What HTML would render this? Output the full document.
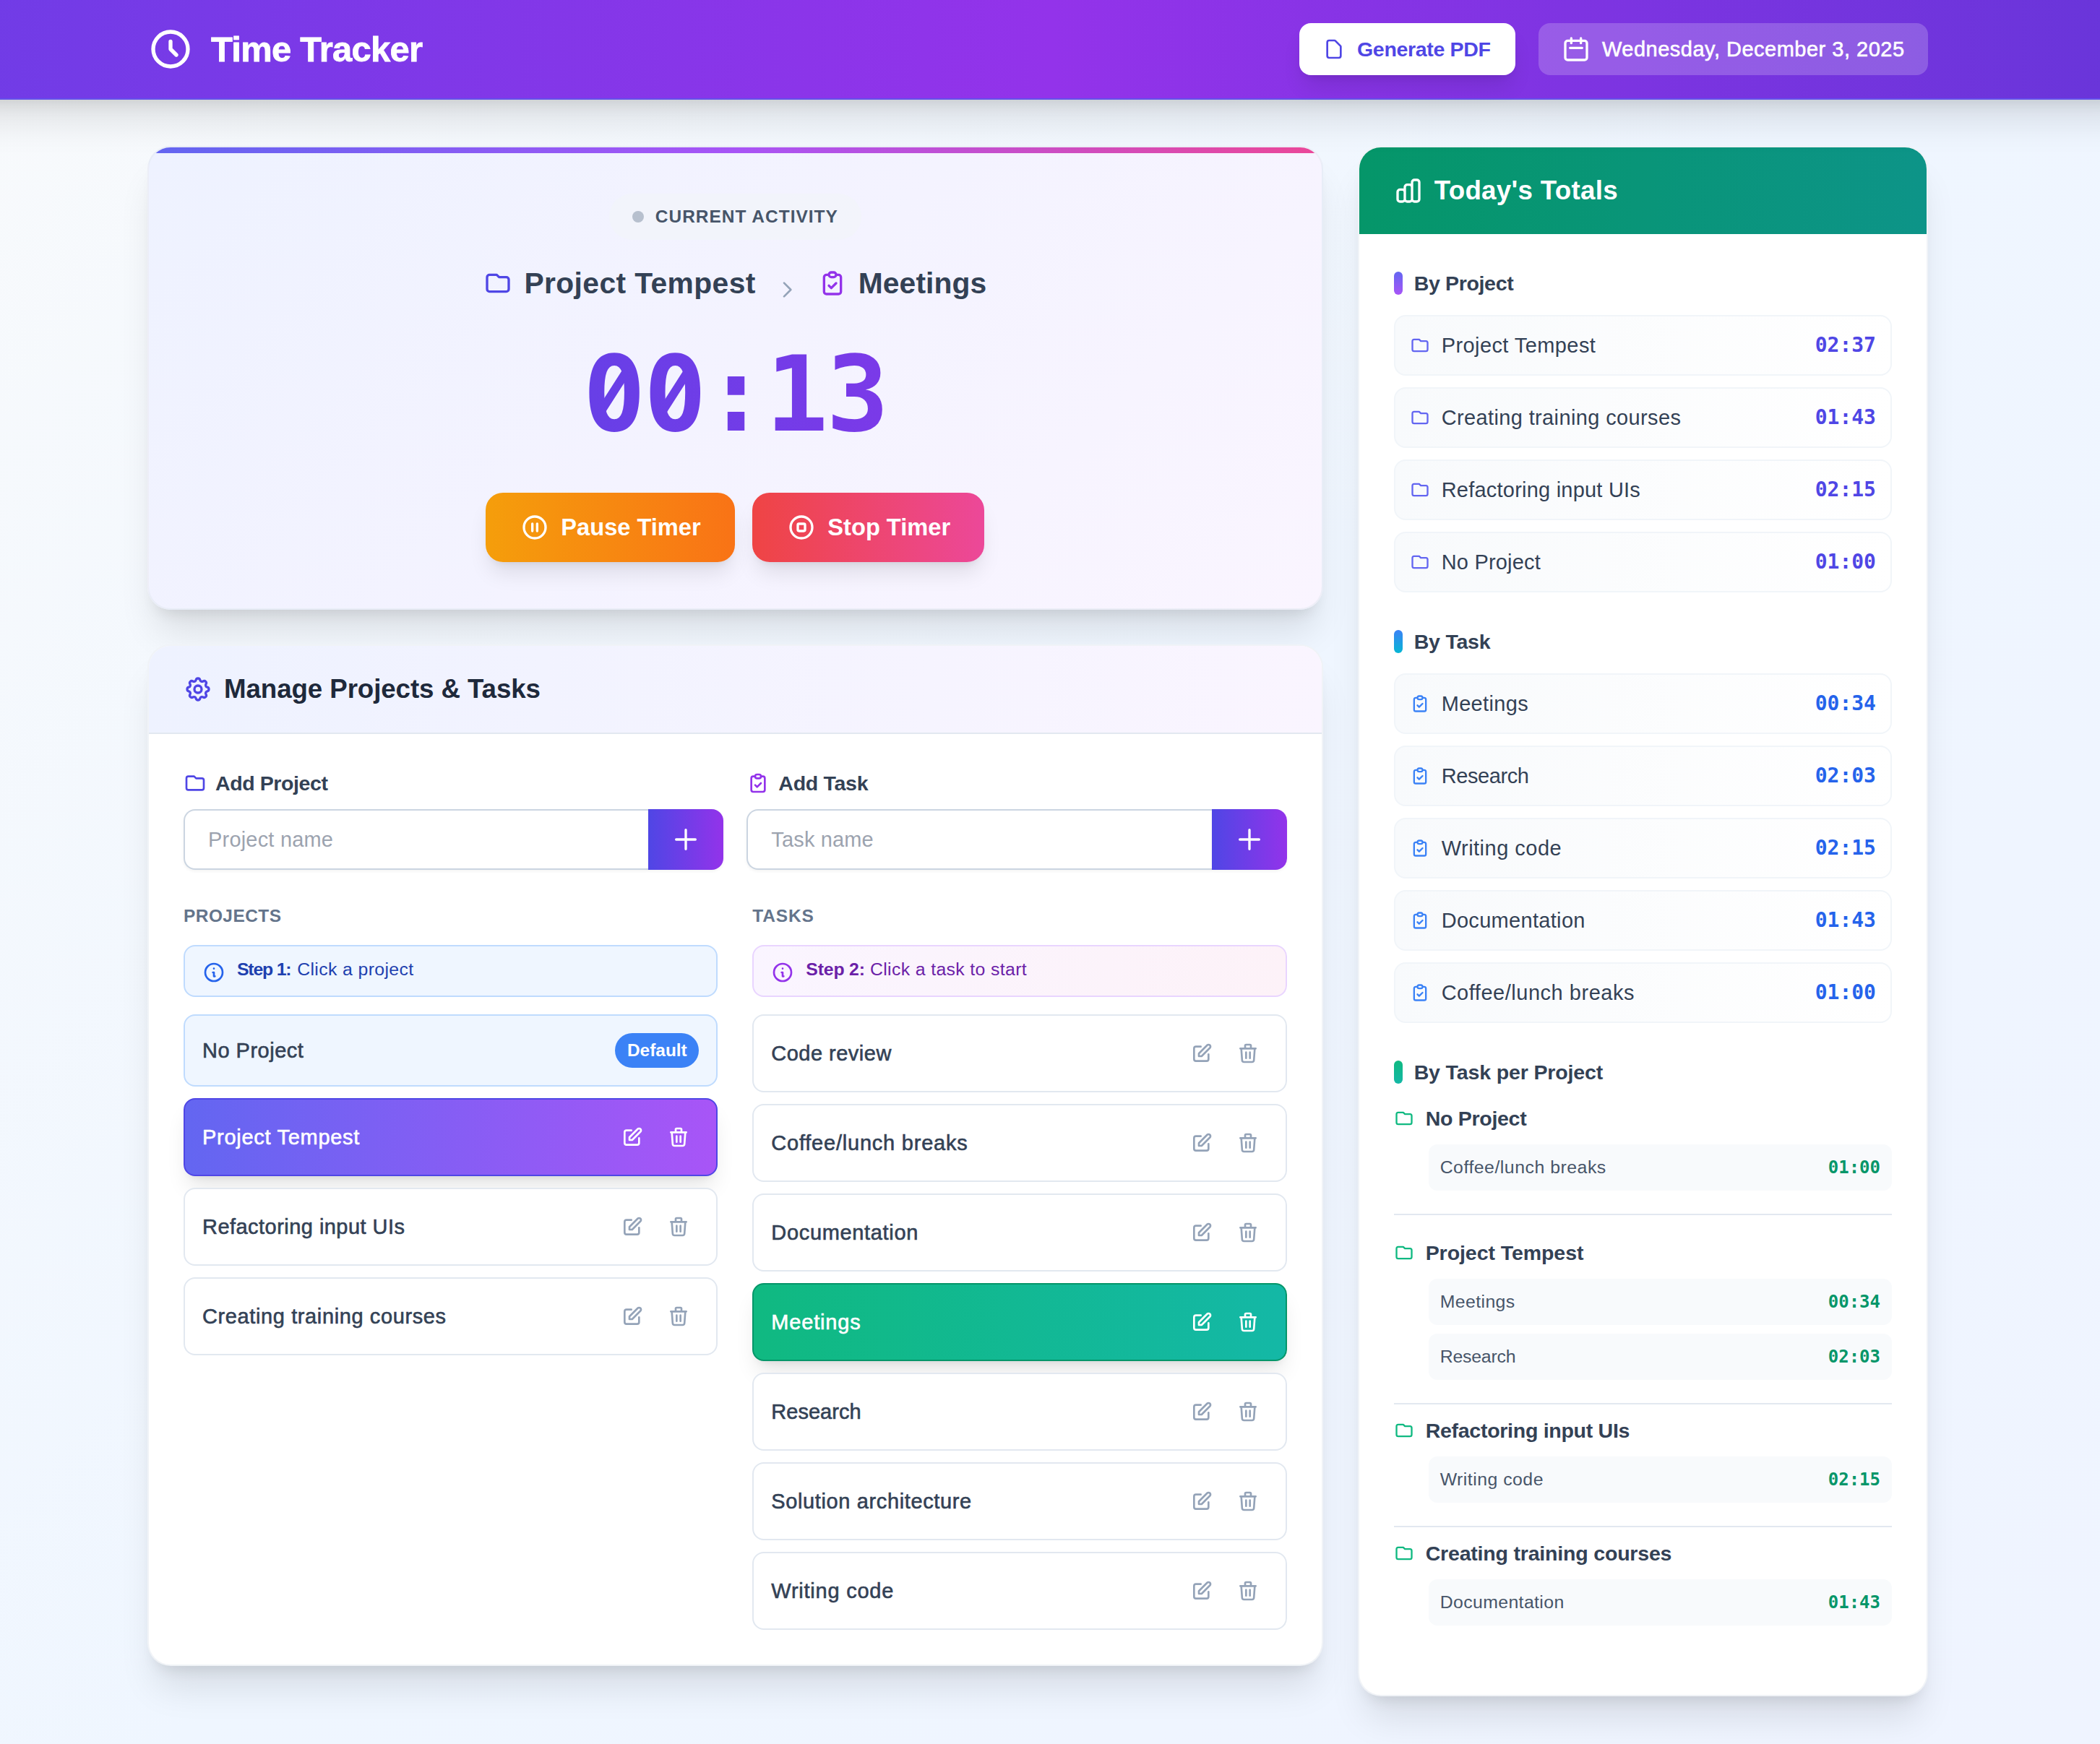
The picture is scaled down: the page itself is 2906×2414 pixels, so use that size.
<!DOCTYPE html>
<html lang="en">
<head>
<meta charset="utf-8">
<title>Time Tracker</title>
<style>
*{box-sizing:border-box;margin:0;padding:0}
html,body{width:100%;height:100%;overflow:hidden;background:#eff6ff}
body{font-family:"Liberation Sans",sans-serif;color:#334155;-webkit-font-smoothing:antialiased}
#app{zoom:2;width:1453px;height:1207px;position:relative;overflow:hidden;
  background:linear-gradient(135deg,#f8fafc 0%,#eff6ff 50%,#eff4ff 100%)}
.ic{display:block;flex:none}
button{font:inherit;border:0;background:none;color:inherit}
.wrap{margin-left:102px;width:1232px}
/* header */
.hdr{height:69px;margin:0 -30px;padding:0 30px;border-bottom:1px solid #6450eb;position:relative;z-index:5;
  background:linear-gradient(90deg,#703ce6 0%,#9333ea 50%,#6835d9 100%);
  box-shadow:0 20px 25px -5px rgba(0,0,0,.1),0 8px 10px -6px rgba(0,0,0,.1)}
.hdr-in{height:68px;display:flex;align-items:center;justify-content:space-between}
.brand{display:flex;align-items:center;gap:12px;color:#fff}
.brand h1{font-size:24.48px;line-height:32px;font-weight:700;letter-spacing:0;-webkit-text-stroke:.4px currentColor}
.hdr-r{display:flex;align-items:center;gap:16px}
.btn-pdf{display:flex;align-items:center;gap:8px;height:36px;width:149.5px;padding:0 0 0 16px;white-space:nowrap;background:#fff;color:#4f46e5;border-radius:8px;
  font-size:14.28px;line-height:20px;font-weight:700;box-shadow:0 10px 15px -3px rgba(0,0,0,.1),0 4px 6px -4px rgba(0,0,0,.1)}
.date{display:flex;align-items:center;gap:8px;height:36px;width:269.5px;padding:0 0 0 16px;white-space:nowrap;background:rgba(255,255,255,.2);color:#fff;border-radius:8px;
  font-size:14.49px;line-height:20px;font-weight:400;-webkit-text-stroke:.3px currentColor}
/* main */
.main{padding-top:32px;display:flex;gap:24px;align-items:flex-start}
.col-l{width:813.33px;flex:none}
.card{border-radius:16px;background:#fff;border:1px solid rgba(226,232,240,.5);position:relative;overflow:hidden;
  box-shadow:0 20px 25px -5px rgba(0,0,0,.1),0 8px 10px -6px rgba(0,0,0,.1)}
/* timer */
.timer{height:321px;padding:32px;text-align:center;background:linear-gradient(135deg,#eef2ff 0%,#f4f3ff 50%,#faf5ff 100%)}
.bar{position:absolute;left:0;right:0;top:0;height:4px;background:linear-gradient(90deg,#6366f1,#a855f7,#ec4899)}
.pill{display:inline-flex;align-items:center;gap:8px;height:32px;padding:0 16px;border-radius:16px;background:rgba(241,245,249,.6);margin-bottom:16px}
.dot{width:8px;height:8px;border-radius:50%;background:#b7c0ce}
.pill-t{font-size:12.24px;line-height:16px;font-weight:700;color:#475569}
.crumb{display:flex;align-items:center;justify-content:center;gap:12px;height:28px;margin-bottom:27px}
.crumb .ic{margin-right:-4px}
.cr-t{font-size:20.40px;line-height:28px;font-weight:700;color:#334155}
.c-ind{color:#4f46e5}.c-pur{color:#9333ea}.c-chev{color:#94a3b8;position:relative;top:4.5px}
.crumb .c-chev{margin:0 1.5px}
.clock{font-family:"DejaVu Sans Mono","Liberation Mono",monospace;font-weight:700;font-size:72px;line-height:72px;height:72px;letter-spacing:-1.25px;margin-bottom:32px;
  background:linear-gradient(90deg,#4f46e5,#9333ea);-webkit-background-clip:text;background-clip:text;color:transparent;-webkit-text-fill-color:transparent}
.zs{position:absolute;left:32px;top:135px;width:747.33px;height:72px;background:linear-gradient(90deg,#4f46e5,#9333ea);clip-path:path('M281.15 41.60 L296.35 17.90 L298.10 26.15 L282.90 49.85 Z M323.65 41.60 L338.85 17.90 L340.60 26.15 L325.40 49.85 Z')}
.zd{position:absolute;width:10.5px;height:10.5px;border-radius:50%;background:#f4f3ff;top:164.50px}
.zd1{left:317.00px}.zd2{left:359.00px}
.tbtns{display:flex;justify-content:center;gap:12px}
.tb{display:flex;align-items:center;gap:8px;height:48px;padding:0 0 0 24px;white-space:nowrap;border-radius:12px;color:#fff;font-size:16.32px;line-height:24px;font-weight:700;
  box-shadow:0 10px 15px -3px rgba(0,0,0,.1),0 4px 6px -4px rgba(0,0,0,.1)}
.tb-pause{width:172.5px;background:linear-gradient(90deg,#f59e0b,#f97316)}
.tb-stop{width:160.5px;background:linear-gradient(90deg,#ef4444,#ec4899)}
/* manage */
.manage{margin-top:24px}
.m-hdr{height:61px;padding:0 24px;display:flex;align-items:center;gap:8px;border-bottom:1px solid #e2e8f0;background:linear-gradient(90deg,#eef2ff,#faf5ff)}
.m-hdr h2{font-size:18.36px;line-height:28px;font-weight:700;color:#1e293b}
.m-body{padding:24px}
.adds{display:flex;gap:16px;margin-bottom:24px}
.add{flex:1}
.lbl{display:flex;align-items:center;gap:6px;height:20px;margin-bottom:8px;font-size:14.28px;line-height:20px;font-weight:700;color:#334155}
.inp{display:flex;height:42px}
.field{flex:1;border:1px solid #cbd5e1;border-right:0;border-radius:8px 0 0 8px;padding:0 16px;display:flex;align-items:center;font-size:14.49px;color:#9ca3af;background:#fff;box-shadow:0 1px 2px rgba(0,0,0,.05)}
.plus{width:52px;border-radius:0 8px 8px 0;display:flex;align-items:center;justify-content:center;color:#fff;background:linear-gradient(90deg,#4f46e5,#9333ea);box-shadow:0 1px 2px rgba(0,0,0,.05)}
.lists{display:flex;gap:24px}
.list{flex:1}
.lh{font-size:12.24px;line-height:16px;font-weight:700;color:#64748b;margin-bottom:12px}
.step{display:flex;align-items:flex-start;gap:8px;height:36px;padding:8px 12px;border:1px solid #bfdbfe;border-radius:8px;background:#eff6ff;font-size:12.42px;line-height:16px;margin-bottom:12px}
.step .ic{margin-top:2px}
.step1{color:#1e40af}.step1 .ic{color:#2563eb}
.step2{color:#6b21a8;border-color:#e9d5ff;background:linear-gradient(90deg,#faf5ff,#fdf2f8)}.step2 .ic{color:#9333ea}
.step b{font-weight:700;display:inline-block;white-space:nowrap}
.step-t{white-space:nowrap}
.items{display:flex;flex-direction:column;gap:8px}
.item{height:54px;padding:0 12px;border:1px solid #e2e8f0;border-radius:8px;background:#fff;display:flex;align-items:center;justify-content:space-between;
  font-size:14.49px;line-height:20px;font-weight:400;color:#334155}
.item .nm{-webkit-text-stroke:.3px currentColor}
.item-def{height:50px;background:#eff6ff;border-color:#bfdbfe}
.item-psel{background:linear-gradient(90deg,#6366f1,#a855f7);border-color:#4f46e5;color:#fff;box-shadow:0 10px 15px -3px rgba(0,0,0,.1),0 4px 6px -4px rgba(0,0,0,.1)}
.item-tsel{background:linear-gradient(90deg,#10b981,#14b8a6);border-color:#059669;color:#fff;box-shadow:0 10px 15px -3px rgba(0,0,0,.1),0 4px 6px -4px rgba(0,0,0,.1)}
.badge{height:24px;width:58px;text-align:center;padding:4px 0;white-space:nowrap;border-radius:12px;background:#3b82f6;color:#fff;font-size:12.24px;line-height:16px;font-weight:700}
.acts{display:flex;gap:4px;color:#94a3b8}
.item-psel .acts,.item-tsel .acts{color:#fff}
.ab{width:28px;height:28px;padding:6px;display:block}
/* totals */
.totals{width:394.67px;flex:none;height:1073px}
.t-hdr{height:60px;padding:0 24px;display:flex;align-items:center;gap:8px;color:#fff;background:linear-gradient(90deg,#059669,#0d9488)}
.t-hdr h2{font-size:18.36px;line-height:28px;font-weight:700}
.t-body{padding:24px}
.sec{margin-bottom:24px}
.sh{display:flex;align-items:center;gap:8px;height:20px;margin-bottom:12px;font-size:14.28px;line-height:20px;font-weight:700;color:#334155}
.sh i{display:block;width:6px;height:16px;border-radius:3px}
.sh-p i{background:linear-gradient(180deg,#6366f1,#a855f7)}
.sh-t i{background:linear-gradient(180deg,#3b82f6,#06b6d4)}
.sh-x i{background:linear-gradient(180deg,#10b981,#14b8a6)}
.tot{height:42px;padding:0 10px;border:1px solid #f1f5f9;border-radius:8px;background:linear-gradient(90deg,#f8fafc,#fff);display:flex;align-items:center;margin-bottom:8px;font-size:14.49px;line-height:20px;color:#334155}
.tot:last-child{margin-bottom:0}
.tot .ti{margin-right:8px}
.tn{flex:1}
.tt{font-family:"DejaVu Sans Mono","Liberation Mono",monospace;font-weight:700;font-size:14px}
.tot-p .ti{color:#6366f1}.tot-p .tt{color:#4f46e5}
.tot-t .ti{color:#3b82f6}.tot-t .tt{color:#2563eb}
.gh{display:flex;align-items:center;gap:8px;height:20px;margin-bottom:8px;font-size:14.28px;line-height:20px;font-weight:700;color:#334155}
.gi{color:#10b981}
.gl{margin-left:24px;display:flex;flex-direction:column;gap:6px}
.sub{height:32px;padding:0 8px;border-radius:6px;background:#f8fafc;display:flex;align-items:center;justify-content:space-between;font-size:12.42px;line-height:16px;color:#475569}
.st{font-family:"DejaVu Sans Mono","Liberation Mono",monospace;font-weight:700;font-size:12px;color:#059669}
.grp{padding-bottom:16px;border-bottom:1px solid #e2e8f0;margin-bottom:8px}
.g1{margin-bottom:16px}
.g4{border-bottom:0}

</style>
</head>
<body>
<div id="app">
<header class="hdr">
  <div class="wrap hdr-in">
    <div class="brand"><svg class="ic brand-ic" width="32" height="32" viewBox="0 0 24 24" fill="none" stroke="currentColor" stroke-width="2" stroke-linecap="round" stroke-linejoin="round" style=""><path d="M12 8v4l3 3m6-3a9 9 0 11-18 0 9 9 0 0118 0z"/></svg><h1><span class="w" style="letter-spacing:-0.372px">Time Tracker</span></h1></div>
    <div class="hdr-r">
      <button class="btn-pdf"><svg class="ic " width="16" height="16" viewBox="0 0 24 24" fill="none" stroke="currentColor" stroke-width="2" stroke-linecap="round" stroke-linejoin="round" style=""><path d="M7 21h10a2 2 0 002-2V9.414a1 1 0 00-.293-.707l-5.414-5.414A1 1 0 0012.586 3H7a2 2 0 00-2 2v14a2 2 0 002 2z"/></svg><span class="w" style="letter-spacing:-0.173px">Generate PDF</span></button>
      <div class="date"><svg class="ic " width="20" height="20" viewBox="0 0 24 24" fill="none" stroke="currentColor" stroke-width="2" stroke-linecap="round" stroke-linejoin="round" style=""><path d="M8 7V3m8 4V3m-9 8h10M5 21h14a2 2 0 002-2V7a2 2 0 00-2-2H5a2 2 0 00-2 2v12a2 2 0 002 2z"/></svg><span class="w" style="letter-spacing:0.255px">Wednesday, December 3, 2025</span></div>
    </div>
  </div>
</header>
<main class="wrap main">
  <div class="col-l">
    <section class="card timer">
      <div class="bar"></div>
      <div class="pill"><span class="dot"></span><span class="pill-t"><span class="w" style="letter-spacing:0.501px">CURRENT ACTIVITY</span></span></div>
      <div class="crumb">
        <svg class="ic c-ind" width="20" height="20" viewBox="0 0 24 24" fill="none" stroke="currentColor" stroke-width="2" stroke-linecap="round" stroke-linejoin="round" style=""><path d="M3 7v10a2 2 0 002 2h14a2 2 0 002-2V9a2 2 0 00-2-2h-6l-2-2H5a2 2 0 00-2 2z"/></svg><span class="cr-t cr-p"><span class="w" style="letter-spacing:0.2px">Project Tempest</span></span>
        <svg class="ic c-chev" width="16" height="16" viewBox="0 0 24 24" fill="none" stroke="currentColor" stroke-width="2" stroke-linecap="round" stroke-linejoin="round" style=""><path d="M9 5l7 7-7 7"/></svg>
        <svg class="ic c-pur" width="20" height="20" viewBox="0 0 24 24" fill="none" stroke="currentColor" stroke-width="2" stroke-linecap="round" stroke-linejoin="round" style=""><path d="M9 5H7a2 2 0 00-2 2v12a2 2 0 002 2h10a2 2 0 002-2V7a2 2 0 00-2-2h-2M9 5a2 2 0 002 2h2a2 2 0 002-2M9 5a2 2 0 012-2h2a2 2 0 012 2m-6 9l2 2 4-4"/></svg><span class="cr-t cr-m"><span class="w" style="letter-spacing:0.041px">Meetings</span></span>
      </div>
      <div class="clock">00:13</div><i class="zd zd1"></i><i class="zd zd2"></i><i class="zs"></i>
      <div class="tbtns">
        <button class="tb tb-pause"><svg class="ic " width="20" height="20" viewBox="0 0 24 24" fill="none" stroke="currentColor" stroke-width="2" stroke-linecap="round" stroke-linejoin="round" style=""><path d="M10 9v6m4-6v6m7-3a9 9 0 11-18 0 9 9 0 0118 0z"/></svg><span class="w" style="letter-spacing:-0.003px">Pause Timer</span></button>
        <button class="tb tb-stop"><svg class="ic " width="20" height="20" viewBox="0 0 24 24" fill="none" stroke="currentColor" stroke-width="2" stroke-linecap="round" stroke-linejoin="round" style=""><path d="M21 12a9 9 0 11-18 0 9 9 0 0118 0z"/><path d="M9 10a1 1 0 011-1h4a1 1 0 011 1v4a1 1 0 01-1 1h-4a1 1 0 01-1-1v-4z"/></svg><span class="w" style="letter-spacing:-0.001px">Stop Timer</span></button>
      </div>
    </section>
    <section class="card manage">
      <div class="m-hdr"><svg class="ic c-ind" width="20" height="20" viewBox="0 0 24 24" fill="none" stroke="currentColor" stroke-width="2" stroke-linecap="round" stroke-linejoin="round" style=""><path d="M10.325 4.317c.426-1.756 2.924-1.756 3.35 0a1.724 1.724 0 002.573 1.066c1.543-.94 3.31.826 2.37 2.37a1.724 1.724 0 001.065 2.572c1.756.426 1.756 2.924 0 3.35a1.724 1.724 0 00-1.066 2.573c.94 1.543-.826 3.31-2.37 2.37a1.724 1.724 0 00-2.572 1.065c-.426 1.756-2.924 1.756-3.35 0a1.724 1.724 0 00-2.573-1.066c-1.543.94-3.31-.826-2.37-2.37a1.724 1.724 0 00-1.065-2.572c-1.756-.426-1.756-2.924 0-3.35a1.724 1.724 0 001.066-2.573c-.94-1.543.826-3.31 2.37-2.37.996.608 2.296.07 2.572-1.065z"/><path d="M15 12a3 3 0 11-6 0 3 3 0 016 0z"/></svg><h2><span class="w" style="letter-spacing:-0.048px">Manage Projects &amp; Tasks</span></h2></div>
      <div class="m-body">
        <div class="adds">
          <div class="add">
            <div class="lbl"><svg class="ic c-ind" width="16" height="16" viewBox="0 0 24 24" fill="none" stroke="currentColor" stroke-width="2" stroke-linecap="round" stroke-linejoin="round" style=""><path d="M3 7v10a2 2 0 002 2h14a2 2 0 002-2V9a2 2 0 00-2-2h-6l-2-2H5a2 2 0 00-2 2z"/></svg><span class="w" style="letter-spacing:-0.21px">Add Project</span></div>
            <div class="inp"><div class="field"><span class="w" style="letter-spacing:0.105px">Project name</span></div><div class="plus"><svg class="ic " width="20" height="20" viewBox="0 0 24 24" fill="none" stroke="currentColor" stroke-width="2" stroke-linecap="round" stroke-linejoin="round" style=""><path d="M12 4v16m8-8H4"/></svg></div></div>
          </div>
          <div class="add">
            <div class="lbl"><svg class="ic c-pur" width="16" height="16" viewBox="0 0 24 24" fill="none" stroke="currentColor" stroke-width="2" stroke-linecap="round" stroke-linejoin="round" style=""><path d="M9 5H7a2 2 0 00-2 2v12a2 2 0 002 2h10a2 2 0 002-2V7a2 2 0 00-2-2h-2M9 5a2 2 0 002 2h2a2 2 0 002-2M9 5a2 2 0 012-2h2a2 2 0 012 2m-6 9l2 2 4-4"/></svg><span class="w" style="letter-spacing:-0.155px">Add Task</span></div>
            <div class="inp"><div class="field"><span class="w" style="letter-spacing:0.083px">Task name</span></div><div class="plus"><svg class="ic " width="20" height="20" viewBox="0 0 24 24" fill="none" stroke="currentColor" stroke-width="2" stroke-linecap="round" stroke-linejoin="round" style=""><path d="M12 4v16m8-8H4"/></svg></div></div>
          </div>
        </div>
        <div class="lists">
          <div class="list">
            <div class="lh lh-p"><span class="w" style="letter-spacing:0.222px">PROJECTS</span></div>
            <div class="step step1"><svg class="ic " width="16" height="16" viewBox="0 0 24 24" fill="none" stroke="currentColor" stroke-width="2" stroke-linecap="round" stroke-linejoin="round" style=""><path d="M13 16h-1v-4h-1m1-4h.01M21 12a9 9 0 11-18 0 9 9 0 0118 0z"/></svg><span class="step-t"><b style="width:41.6px"><span class="w" style="letter-spacing:-0.598px">Step 1:</span></b><span class="w" style="letter-spacing:0.181px">Click a project</span></span></div>
            <div class="items">
              <div class="item item-def"><span class="nm"><span class="w" style="letter-spacing:0.253px">No Project</span></span><span class="badge"><span class="w" style="letter-spacing:-0.011px">Default</span></span></div>
              <div class="item item-psel"><span class="nm"><span class="w" style="letter-spacing:0.365px">Project Tempest</span></span><span class="acts"><span class="ab"><svg class="ic " width="16" height="16" viewBox="0 0 24 24" fill="none" stroke="currentColor" stroke-width="2" stroke-linecap="round" stroke-linejoin="round" style=""><path d="M11 5H6a2 2 0 00-2 2v11a2 2 0 002 2h11a2 2 0 002-2v-5m-1.414-9.414a2 2 0 112.828 2.828L11.828 15H9v-2.828l8.586-8.586z"/></svg></span><span class="ab"><svg class="ic " width="16" height="16" viewBox="0 0 24 24" fill="none" stroke="currentColor" stroke-width="2" stroke-linecap="round" stroke-linejoin="round" style=""><path d="M19 7l-.867 12.142A2 2 0 0116.138 21H7.862a2 2 0 01-1.995-1.858L5 7m5 4v6m4-6v6m1-10V4a1 1 0 00-1-1h-4a1 1 0 00-1 1v3M4 7h16"/></svg></span></span></div>
              <div class="item"><span class="nm"><span class="w" style="letter-spacing:0.237px">Refactoring input UIs</span></span><span class="acts"><span class="ab"><svg class="ic " width="16" height="16" viewBox="0 0 24 24" fill="none" stroke="currentColor" stroke-width="2" stroke-linecap="round" stroke-linejoin="round" style=""><path d="M11 5H6a2 2 0 00-2 2v11a2 2 0 002 2h11a2 2 0 002-2v-5m-1.414-9.414a2 2 0 112.828 2.828L11.828 15H9v-2.828l8.586-8.586z"/></svg></span><span class="ab"><svg class="ic " width="16" height="16" viewBox="0 0 24 24" fill="none" stroke="currentColor" stroke-width="2" stroke-linecap="round" stroke-linejoin="round" style=""><path d="M19 7l-.867 12.142A2 2 0 0116.138 21H7.862a2 2 0 01-1.995-1.858L5 7m5 4v6m4-6v6m1-10V4a1 1 0 00-1-1h-4a1 1 0 00-1 1v3M4 7h16"/></svg></span></span></div>
              <div class="item"><span class="nm"><span class="w" style="letter-spacing:0.312px">Creating training courses</span></span><span class="acts"><span class="ab"><svg class="ic " width="16" height="16" viewBox="0 0 24 24" fill="none" stroke="currentColor" stroke-width="2" stroke-linecap="round" stroke-linejoin="round" style=""><path d="M11 5H6a2 2 0 00-2 2v11a2 2 0 002 2h11a2 2 0 002-2v-5m-1.414-9.414a2 2 0 112.828 2.828L11.828 15H9v-2.828l8.586-8.586z"/></svg></span><span class="ab"><svg class="ic " width="16" height="16" viewBox="0 0 24 24" fill="none" stroke="currentColor" stroke-width="2" stroke-linecap="round" stroke-linejoin="round" style=""><path d="M19 7l-.867 12.142A2 2 0 0116.138 21H7.862a2 2 0 01-1.995-1.858L5 7m5 4v6m4-6v6m1-10V4a1 1 0 00-1-1h-4a1 1 0 00-1 1v3M4 7h16"/></svg></span></span></div>
            </div>
          </div>
          <div class="list">
            <div class="lh lh-t"><span class="w" style="letter-spacing:0.409px">TASKS</span></div>
            <div class="step step2"><svg class="ic " width="16" height="16" viewBox="0 0 24 24" fill="none" stroke="currentColor" stroke-width="2" stroke-linecap="round" stroke-linejoin="round" style=""><path d="M13 16h-1v-4h-1m1-4h.01M21 12a9 9 0 11-18 0 9 9 0 0118 0z"/></svg><span class="step-t"><b style="width:44.3px"><span class="w" style="letter-spacing:-0.098px">Step 2:</span></b><span class="w" style="letter-spacing:0.177px">Click a task to start</span></span></div>
            <div class="items">
              <div class="item"><span class="nm"><span class="w" style="letter-spacing:0.249px">Code review</span></span><span class="acts"><span class="ab"><svg class="ic " width="16" height="16" viewBox="0 0 24 24" fill="none" stroke="currentColor" stroke-width="2" stroke-linecap="round" stroke-linejoin="round" style=""><path d="M11 5H6a2 2 0 00-2 2v11a2 2 0 002 2h11a2 2 0 002-2v-5m-1.414-9.414a2 2 0 112.828 2.828L11.828 15H9v-2.828l8.586-8.586z"/></svg></span><span class="ab"><svg class="ic " width="16" height="16" viewBox="0 0 24 24" fill="none" stroke="currentColor" stroke-width="2" stroke-linecap="round" stroke-linejoin="round" style=""><path d="M19 7l-.867 12.142A2 2 0 0116.138 21H7.862a2 2 0 01-1.995-1.858L5 7m5 4v6m4-6v6m1-10V4a1 1 0 00-1-1h-4a1 1 0 00-1 1v3M4 7h16"/></svg></span></span></div>
              <div class="item"><span class="nm"><span class="w" style="letter-spacing:0.396px">Coffee/lunch breaks</span></span><span class="acts"><span class="ab"><svg class="ic " width="16" height="16" viewBox="0 0 24 24" fill="none" stroke="currentColor" stroke-width="2" stroke-linecap="round" stroke-linejoin="round" style=""><path d="M11 5H6a2 2 0 00-2 2v11a2 2 0 002 2h11a2 2 0 002-2v-5m-1.414-9.414a2 2 0 112.828 2.828L11.828 15H9v-2.828l8.586-8.586z"/></svg></span><span class="ab"><svg class="ic " width="16" height="16" viewBox="0 0 24 24" fill="none" stroke="currentColor" stroke-width="2" stroke-linecap="round" stroke-linejoin="round" style=""><path d="M19 7l-.867 12.142A2 2 0 0116.138 21H7.862a2 2 0 01-1.995-1.858L5 7m5 4v6m4-6v6m1-10V4a1 1 0 00-1-1h-4a1 1 0 00-1 1v3M4 7h16"/></svg></span></span></div>
              <div class="item"><span class="nm"><span class="w" style="letter-spacing:0.339px">Documentation</span></span><span class="acts"><span class="ab"><svg class="ic " width="16" height="16" viewBox="0 0 24 24" fill="none" stroke="currentColor" stroke-width="2" stroke-linecap="round" stroke-linejoin="round" style=""><path d="M11 5H6a2 2 0 00-2 2v11a2 2 0 002 2h11a2 2 0 002-2v-5m-1.414-9.414a2 2 0 112.828 2.828L11.828 15H9v-2.828l8.586-8.586z"/></svg></span><span class="ab"><svg class="ic " width="16" height="16" viewBox="0 0 24 24" fill="none" stroke="currentColor" stroke-width="2" stroke-linecap="round" stroke-linejoin="round" style=""><path d="M19 7l-.867 12.142A2 2 0 0116.138 21H7.862a2 2 0 01-1.995-1.858L5 7m5 4v6m4-6v6m1-10V4a1 1 0 00-1-1h-4a1 1 0 00-1 1v3M4 7h16"/></svg></span></span></div>
              <div class="item item-tsel"><span class="nm"><span class="w" style="letter-spacing:0.418px">Meetings</span></span><span class="acts"><span class="ab"><svg class="ic " width="16" height="16" viewBox="0 0 24 24" fill="none" stroke="currentColor" stroke-width="2" stroke-linecap="round" stroke-linejoin="round" style=""><path d="M11 5H6a2 2 0 00-2 2v11a2 2 0 002 2h11a2 2 0 002-2v-5m-1.414-9.414a2 2 0 112.828 2.828L11.828 15H9v-2.828l8.586-8.586z"/></svg></span><span class="ab"><svg class="ic " width="16" height="16" viewBox="0 0 24 24" fill="none" stroke="currentColor" stroke-width="2" stroke-linecap="round" stroke-linejoin="round" style=""><path d="M19 7l-.867 12.142A2 2 0 0116.138 21H7.862a2 2 0 01-1.995-1.858L5 7m5 4v6m4-6v6m1-10V4a1 1 0 00-1-1h-4a1 1 0 00-1 1v3M4 7h16"/></svg></span></span></div>
              <div class="item"><span class="nm"><span class="w" style="letter-spacing:0.015px">Research</span></span><span class="acts"><span class="ab"><svg class="ic " width="16" height="16" viewBox="0 0 24 24" fill="none" stroke="currentColor" stroke-width="2" stroke-linecap="round" stroke-linejoin="round" style=""><path d="M11 5H6a2 2 0 00-2 2v11a2 2 0 002 2h11a2 2 0 002-2v-5m-1.414-9.414a2 2 0 112.828 2.828L11.828 15H9v-2.828l8.586-8.586z"/></svg></span><span class="ab"><svg class="ic " width="16" height="16" viewBox="0 0 24 24" fill="none" stroke="currentColor" stroke-width="2" stroke-linecap="round" stroke-linejoin="round" style=""><path d="M19 7l-.867 12.142A2 2 0 0116.138 21H7.862a2 2 0 01-1.995-1.858L5 7m5 4v6m4-6v6m1-10V4a1 1 0 00-1-1h-4a1 1 0 00-1 1v3M4 7h16"/></svg></span></span></div>
              <div class="item"><span class="nm"><span class="w" style="letter-spacing:0.318px">Solution architecture</span></span><span class="acts"><span class="ab"><svg class="ic " width="16" height="16" viewBox="0 0 24 24" fill="none" stroke="currentColor" stroke-width="2" stroke-linecap="round" stroke-linejoin="round" style=""><path d="M11 5H6a2 2 0 00-2 2v11a2 2 0 002 2h11a2 2 0 002-2v-5m-1.414-9.414a2 2 0 112.828 2.828L11.828 15H9v-2.828l8.586-8.586z"/></svg></span><span class="ab"><svg class="ic " width="16" height="16" viewBox="0 0 24 24" fill="none" stroke="currentColor" stroke-width="2" stroke-linecap="round" stroke-linejoin="round" style=""><path d="M19 7l-.867 12.142A2 2 0 0116.138 21H7.862a2 2 0 01-1.995-1.858L5 7m5 4v6m4-6v6m1-10V4a1 1 0 00-1-1h-4a1 1 0 00-1 1v3M4 7h16"/></svg></span></span></div>
              <div class="item"><span class="nm"><span class="w" style="letter-spacing:0.387px">Writing code</span></span><span class="acts"><span class="ab"><svg class="ic " width="16" height="16" viewBox="0 0 24 24" fill="none" stroke="currentColor" stroke-width="2" stroke-linecap="round" stroke-linejoin="round" style=""><path d="M11 5H6a2 2 0 00-2 2v11a2 2 0 002 2h11a2 2 0 002-2v-5m-1.414-9.414a2 2 0 112.828 2.828L11.828 15H9v-2.828l8.586-8.586z"/></svg></span><span class="ab"><svg class="ic " width="16" height="16" viewBox="0 0 24 24" fill="none" stroke="currentColor" stroke-width="2" stroke-linecap="round" stroke-linejoin="round" style=""><path d="M19 7l-.867 12.142A2 2 0 0116.138 21H7.862a2 2 0 01-1.995-1.858L5 7m5 4v6m4-6v6m1-10V4a1 1 0 00-1-1h-4a1 1 0 00-1 1v3M4 7h16"/></svg></span></span></div>
            </div>
          </div>
        </div>
      </div>
    </section>
  </div>
  <aside class="card totals">
    <div class="t-hdr"><svg class="ic " width="20" height="20" viewBox="0 0 24 24" fill="none" stroke="currentColor" stroke-width="2" stroke-linecap="round" stroke-linejoin="round" style=""><path d="M9 19v-6a2 2 0 00-2-2H5a2 2 0 00-2 2v6a2 2 0 002 2h2a2 2 0 002-2zm0 0V9a2 2 0 012-2h2a2 2 0 012 2v10m-6 0a2 2 0 002 2h2a2 2 0 002-2m0 0V5a2 2 0 012-2h2a2 2 0 012 2v14a2 2 0 01-2 2h-2a2 2 0 01-2-2z"/></svg><h2><span class="w" style="letter-spacing:0.147px">Today's Totals</span></h2></div>
    <div class="t-body">
      <div class="sec">
        <h3 class="sh sh-p"><i></i><span class="w" style="letter-spacing:-0.178px">By Project</span></h3>
        <div class="tot tot-p"><svg class="ic ti" width="14" height="14" viewBox="0 0 24 24" fill="none" stroke="currentColor" stroke-width="2" stroke-linecap="round" stroke-linejoin="round" style=""><path d="M3 7v10a2 2 0 002 2h14a2 2 0 002-2V9a2 2 0 00-2-2h-6l-2-2H5a2 2 0 00-2 2z"/></svg><span class="tn"><span class="w" style="letter-spacing:0.215px">Project Tempest</span></span><span class="tt">02:37</span></div>
        <div class="tot tot-p"><svg class="ic ti" width="14" height="14" viewBox="0 0 24 24" fill="none" stroke="currentColor" stroke-width="2" stroke-linecap="round" stroke-linejoin="round" style=""><path d="M3 7v10a2 2 0 002 2h14a2 2 0 002-2V9a2 2 0 00-2-2h-6l-2-2H5a2 2 0 00-2 2z"/></svg><span class="tn"><span class="w" style="letter-spacing:0.191px">Creating training courses</span></span><span class="tt">01:43</span></div>
        <div class="tot tot-p"><svg class="ic ti" width="14" height="14" viewBox="0 0 24 24" fill="none" stroke="currentColor" stroke-width="2" stroke-linecap="round" stroke-linejoin="round" style=""><path d="M3 7v10a2 2 0 002 2h14a2 2 0 002-2V9a2 2 0 00-2-2h-6l-2-2H5a2 2 0 00-2 2z"/></svg><span class="tn"><span class="w" style="letter-spacing:0.117px">Refactoring input UIs</span></span><span class="tt">02:15</span></div>
        <div class="tot tot-p"><svg class="ic ti" width="14" height="14" viewBox="0 0 24 24" fill="none" stroke="currentColor" stroke-width="2" stroke-linecap="round" stroke-linejoin="round" style=""><path d="M3 7v10a2 2 0 002 2h14a2 2 0 002-2V9a2 2 0 00-2-2h-6l-2-2H5a2 2 0 00-2 2z"/></svg><span class="tn"><span class="w" style="letter-spacing:0.108px">No Project</span></span><span class="tt">01:00</span></div>
      </div>
      <div class="sec">
        <h3 class="sh sh-t"><i></i><span class="w" style="letter-spacing:-0.115px">By Task</span></h3>
        <div class="tot tot-t"><svg class="ic ti" width="14" height="14" viewBox="0 0 24 24" fill="none" stroke="currentColor" stroke-width="2" stroke-linecap="round" stroke-linejoin="round" style=""><path d="M9 5H7a2 2 0 00-2 2v12a2 2 0 002 2h10a2 2 0 002-2V7a2 2 0 00-2-2h-2M9 5a2 2 0 002 2h2a2 2 0 002-2M9 5a2 2 0 012-2h2a2 2 0 012 2m-6 9l2 2 4-4"/></svg><span class="tn"><span class="w" style="letter-spacing:0.175px">Meetings</span></span><span class="tt">00:34</span></div>
        <div class="tot tot-t"><svg class="ic ti" width="14" height="14" viewBox="0 0 24 24" fill="none" stroke="currentColor" stroke-width="2" stroke-linecap="round" stroke-linejoin="round" style=""><path d="M9 5H7a2 2 0 00-2 2v12a2 2 0 002 2h10a2 2 0 002-2V7a2 2 0 00-2-2h-2M9 5a2 2 0 002 2h2a2 2 0 002-2M9 5a2 2 0 012-2h2a2 2 0 012 2m-6 9l2 2 4-4"/></svg><span class="tn"><span class="w" style="letter-spacing:-0.199px">Research</span></span><span class="tt">02:03</span></div>
        <div class="tot tot-t"><svg class="ic ti" width="14" height="14" viewBox="0 0 24 24" fill="none" stroke="currentColor" stroke-width="2" stroke-linecap="round" stroke-linejoin="round" style=""><path d="M9 5H7a2 2 0 00-2 2v12a2 2 0 002 2h10a2 2 0 002-2V7a2 2 0 00-2-2h-2M9 5a2 2 0 002 2h2a2 2 0 002-2M9 5a2 2 0 012-2h2a2 2 0 012 2m-6 9l2 2 4-4"/></svg><span class="tn"><span class="w" style="letter-spacing:0.251px">Writing code</span></span><span class="tt">02:15</span></div>
        <div class="tot tot-t"><svg class="ic ti" width="14" height="14" viewBox="0 0 24 24" fill="none" stroke="currentColor" stroke-width="2" stroke-linecap="round" stroke-linejoin="round" style=""><path d="M9 5H7a2 2 0 00-2 2v12a2 2 0 002 2h10a2 2 0 002-2V7a2 2 0 00-2-2h-2M9 5a2 2 0 002 2h2a2 2 0 002-2M9 5a2 2 0 012-2h2a2 2 0 012 2m-6 9l2 2 4-4"/></svg><span class="tn"><span class="w" style="letter-spacing:0.164px">Documentation</span></span><span class="tt">01:43</span></div>
        <div class="tot tot-t"><svg class="ic ti" width="14" height="14" viewBox="0 0 24 24" fill="none" stroke="currentColor" stroke-width="2" stroke-linecap="round" stroke-linejoin="round" style=""><path d="M9 5H7a2 2 0 00-2 2v12a2 2 0 002 2h10a2 2 0 002-2V7a2 2 0 00-2-2h-2M9 5a2 2 0 002 2h2a2 2 0 002-2M9 5a2 2 0 012-2h2a2 2 0 012 2m-6 9l2 2 4-4"/></svg><span class="tn"><span class="w" style="letter-spacing:0.268px">Coffee/lunch breaks</span></span><span class="tt">01:00</span></div>
      </div>
      <div class="sec">
        <h3 class="sh sh-x"><i></i><span class="w" style="letter-spacing:-0.079px">By Task per Project</span></h3>
        <div class="grp g1"><div class="gh"><svg class="ic gi" width="14" height="14" viewBox="0 0 24 24" fill="none" stroke="currentColor" stroke-width="2" stroke-linecap="round" stroke-linejoin="round" style=""><path d="M3 7v10a2 2 0 002 2h14a2 2 0 002-2V9a2 2 0 00-2-2h-6l-2-2H5a2 2 0 00-2 2z"/></svg><span class="w" style="letter-spacing:-0.154px">No Project</span></div><div class="gl"><div class="sub"><span class="sn"><span class="w" style="letter-spacing:0.256px">Coffee/lunch breaks</span></span><span class="st">01:00</span></div></div></div>
        <div class="grp g2"><div class="gh"><svg class="ic gi" width="14" height="14" viewBox="0 0 24 24" fill="none" stroke="currentColor" stroke-width="2" stroke-linecap="round" stroke-linejoin="round" style=""><path d="M3 7v10a2 2 0 002 2h14a2 2 0 002-2V9a2 2 0 00-2-2h-6l-2-2H5a2 2 0 00-2 2z"/></svg><span class="w" style="letter-spacing:-0.042px">Project Tempest</span></div><div class="gl"><div class="sub"><span class="sn"><span class="w" style="letter-spacing:0.204px">Meetings</span></span><span class="st">00:34</span></div><div class="sub"><span class="sn"><span class="w" style="letter-spacing:-0.105px">Research</span></span><span class="st">02:03</span></div></div></div>
        <div class="grp g3"><div class="gh"><svg class="ic gi" width="14" height="14" viewBox="0 0 24 24" fill="none" stroke="currentColor" stroke-width="2" stroke-linecap="round" stroke-linejoin="round" style=""><path d="M3 7v10a2 2 0 002 2h14a2 2 0 002-2V9a2 2 0 00-2-2h-6l-2-2H5a2 2 0 00-2 2z"/></svg><span class="w" style="letter-spacing:-0.146px">Refactoring input UIs</span></div><div class="gl"><div class="sub"><span class="sn"><span class="w" style="letter-spacing:0.239px">Writing code</span></span><span class="st">02:15</span></div></div></div>
        <div class="grp g4"><div class="gh"><svg class="ic gi" width="14" height="14" viewBox="0 0 24 24" fill="none" stroke="currentColor" stroke-width="2" stroke-linecap="round" stroke-linejoin="round" style=""><path d="M3 7v10a2 2 0 002 2h14a2 2 0 002-2V9a2 2 0 00-2-2h-6l-2-2H5a2 2 0 00-2 2z"/></svg><span class="w" style="letter-spacing:-0.104px">Creating training courses</span></div><div class="gl"><div class="sub"><span class="sn"><span class="w" style="letter-spacing:0.192px">Documentation</span></span><span class="st">01:43</span></div></div></div>
      </div>
    </div>
  </aside>
</main>
</div>
<script>(function(){var w=window.innerWidth||2906;if(w>0&&Math.abs(w-2906)>2){document.getElementById('app').style.zoom=w/1453;}})();</script>
</body>
</html>
